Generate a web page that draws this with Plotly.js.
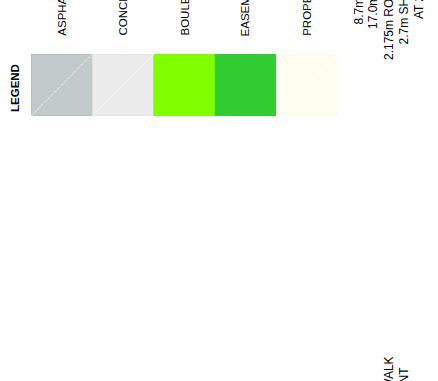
<!DOCTYPE html>
<html>
<head>
<meta charset="utf-8">
<script src="https://cdn.plot.ly/plotly-3.0.1.min.js"></script>
<style>html,body{margin:0;padding:0;background:#fff;}#chart{width:438px;height:381px;}</style>
</head>
<body>
<div id="chart"></div>
<script>
// ---- data ----
const categories = ["ASPHALT", "CONCRETE", "BOULEVARD", "EASEMENT", "PROPERTY"];
const swatchValues = [1, 1, 1, 1, 1];
const hatched = [true, true, false, false, true];
const legendTitle = "LEGEND";
const noteLines = ["8.7m ASPHALT", "17.0m ROAD", "2.175m ROAD SHOULDER", "2.7m SHOULDER", "AT 2%"];
const noteLines2 = ["1.5m SIDEWALK", "EASEMENT"];

// ---- styles ----
const fillColors = ["#c3cacb", "#ebebeb", "#7fff00", "#32cd32", "#fefdf0"];
const edgeColors = ["#a9b1b2", "#dedede", "#7fff00", "#32cd32", "#fefdf0"];
const hatchColors = ["#ffffff", "#f8f8f8", "#ffffff", "#ffffff", "#ffffff"];
const hatchDash = ["1px,1px", "solid", "solid", "solid", "solid"];

const W = 438, H = 381;
const px = v => v / W;
const py = v => 1 - v / H;

const idx = categories.map((_, i) => i);
const traces = [{
  type: "bar",
  x: idx,
  y: swatchValues,
  width: 1,
  marker: { color: fillColors, line: { color: edgeColors, width: 1 } },
  hoverinfo: "skip",
  showlegend: false
}];
idx.forEach(i => {
  if (!hatched[i]) return;
  traces.push({
    type: "scatter", mode: "lines",
    x: [i - 0.5, i + 0.5], y: [0, swatchValues[i]],
    line: { color: hatchColors[i], width: 1, dash: hatchDash[i] },
    hoverinfo: "skip", showlegend: false
  });
});

const font = "Liberation Sans, Arial, sans-serif";
const annotations = [];
categories.forEach((c, i) => {
  annotations.push({
    text: c, x: i, xref: "x", y: py(38), yref: "paper",
    xanchor: "center", yanchor: "bottom", textangle: -90, showarrow: false,
    font: { family: font, size: 11.5, color: "#000" }
  });
});
annotations.push({
  text: "<b>" + legendTitle + "</b>", x: px(14.5), y: py(88.5), xref: "paper", yref: "paper",
  xanchor: "center", yanchor: "middle", textangle: -90, showarrow: false,
  font: { family: font, size: 11.5, color: "#000" }
});
const noteX = [358.5, 373, 389, 403, 418.5];
const noteBottom = [27, 31, 62, 47, 21];
noteLines.forEach((t, i) => {
  annotations.push({
    text: t, x: px(noteX[i]), y: py(noteBottom[i]), xref: "paper", yref: "paper",
    xanchor: "center", yanchor: "bottom", textangle: -90, showarrow: false,
    font: { family: font, size: 12, color: "#000" }
  });
});
const note2X = [389, 403];
const note2Top = [354, 365];
noteLines2.forEach((t, i) => {
  annotations.push({
    text: t, x: px(note2X[i]), y: py(note2Top[i]), xref: "paper", yref: "paper",
    xanchor: "center", yanchor: "top", textangle: -90, showarrow: false,
    font: { family: font, size: 12, color: "#000" }
  });
});

const layout = {
  width: W, height: H,
  margin: { l: 0, r: 0, t: 0, b: 0 },
  paper_bgcolor: "#ffffff", plot_bgcolor: "rgba(0,0,0,0)",
  bargap: 0,
  xaxis: { domain: [px(31), px(338)], range: [-0.5, 4.5], visible: false, fixedrange: true },
  yaxis: { domain: [py(116), py(54)], range: [0, 1], visible: false, fixedrange: true },
  annotations: annotations,
  showlegend: false
};
Plotly.newPlot("chart", traces, layout, { staticPlot: true, displayModeBar: false });
</script>
</body>
</html>
